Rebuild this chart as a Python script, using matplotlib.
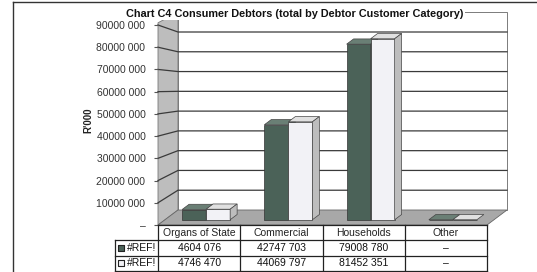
import matplotlib
matplotlib.use('Agg')
import matplotlib.pyplot as plt
from matplotlib.patches import Polygon
from matplotlib.lines import Line2D

categories = ['Organs of State', 'Commercial', 'Households', 'Other']
series_a = [4604076, 42747703, 79008780, 0]
series_b = [4746470, 44069797, 81452351, 0]
series_names = ['#REF!', '#REF!']
yticks = [0, 10000000, 20000000, 30000000, 40000000, 50000000,
          60000000, 70000000, 80000000, 90000000]
title = 'Chart C4 Consumer Debtors (total by Debtor Customer Category)'
ylabel = "R'000"


def fmt(v):
    if v == 0:
        return '\u2013'
    return '%d %03d' % (v // 1000, v % 1000)


W, H = 537, 272
fig = plt.figure(figsize=(W / 100, H / 100), dpi=100)
plt.rcParams['font.family'] = ['Liberation Sans', 'DejaVu Sans']

# main axes: category units across, values up (front plane)
ax = fig.add_axes([158 / W, 47 / H, 329 / W, 200 / H])
ax.set_xlim(-0.5, 3.5)
ax.set_ylim(0, 90000000)
for s in ax.spines.values():
    s.set_visible(False)
ax.set_xticks([])
ax.set_yticks(yticks)
ax.set_yticklabels([fmt(v) for v in yticks], fontsize=7.5, color='#333333')
ax.tick_params(axis='y', length=3, width=0.8, color='#555555', pad=6)
ax.set_facecolor('none')

DX = 0.243          # depth offset in category units
DY = 6750000        # depth offset in value units
SHRINK = 0.11       # back wall is a bit compressed
TOP_BACK = 100000000
TOP_FRONT = 91000000


def wall_pt(x, v, d):
    return (x + d * DX, d * DY + v * (1 - d * SHRINK))


def bar_pt(x, v, d):
    return (x + d * DX, d * DY + v)


def poly(pts, fc, ec='#444444', lw=0.5, z=1):
    ax.add_patch(Polygon(pts, closed=True, facecolor=fc, edgecolor=ec,
                         linewidth=lw, zorder=z, clip_on=False))


x0, x1 = -0.5, 3.5
# back wall
poly([wall_pt(x0, 0, 1), wall_pt(x1, 0, 1), wall_pt(x1, TOP_BACK, 1),
      wall_pt(x0, TOP_BACK, 1)], 'white', ec='#666666', lw=0.6, z=0)
# side wall
poly([wall_pt(x0, 0, 0), wall_pt(x0, 0, 1), wall_pt(x0, TOP_BACK, 1),
      (x0, TOP_FRONT)], '#bdbdbd', ec='#777777', lw=0.6, z=0)
# floor
poly([wall_pt(x0, 0, 0), wall_pt(x1, 0, 0), wall_pt(x1, 0, 1),
      wall_pt(x0, 0, 1)], '#a8a8a8', ec='#666666', lw=0.6, z=0)

# gridlines on back wall and side wall
for v in yticks[1:]:
    a = wall_pt(x0, v, 0)
    b = wall_pt(x0, v, 1)
    c = wall_pt(x1, v, 1)
    ax.plot([a[0], b[0], c[0]], [a[1], b[1], c[1]], color='#3a3a3a',
            lw=0.9, zorder=0.5, clip_on=False)

# bars
w = 0.292
d0, d1 = 0.35, 0.7
styles = [('#4b6258', '#6a7f75', '#3c5048'), ('#f2f2f6', '#e0e0e0', '#bdbdbd')]
for i in range(len(categories)):
    for s, vals in enumerate([series_a, series_b]):
        v = vals[i]
        front, top, side = styles[s]
        left = i - w + s * w
        z = 2 + i * 0.1 + s * 0.01
        ax.bar(left + d0 * DX, v, width=w, bottom=d0 * DY, align='edge',
               color=front, edgecolor='#333333', linewidth=0.5, zorder=z,
               clip_on=False)
        poly([bar_pt(left, v, d0), bar_pt(left + w, v, d0),
              bar_pt(left + w, v, d1), bar_pt(left, v, d1)], top, z=z)
        if v > 0:
            poly([bar_pt(left + w, 0, d0), bar_pt(left + w, 0, d1),
                  bar_pt(left + w, v, d1), bar_pt(left + w, v, d0)], side, z=z)

# data table below the chart
tax = fig.add_axes([115 / W, 1 / H, 372 / W, 46 / H])
tx0 = -0.5 - 43 / 82.25
tax.set_xlim(tx0, 3.5)
tax.set_ylim(3, 0)
tax.axis('off')
lk = dict(color='#222222', lw=0.9, clip_on=False)
tax.plot([x0, x1], [0, 0], **lk)
for r in [1, 2, 3]:
    tax.plot([tx0, x1], [r, r], **lk)
for i in range(len(categories) + 1):
    tax.plot([x0 + i, x0 + i], [0, 3], **lk)
tax.plot([tx0, tx0], [1, 3], **lk)
for i, c in enumerate(categories):
    tax.text(i, 0.55, c, ha='center', va='center', fontsize=7.5, color='#222222')
    tax.text(i, 1.5, fmt(series_a[i]), ha='center', va='center', fontsize=7.5,
             color='#111111')
    tax.text(i, 2.5, fmt(series_b[i]), ha='center', va='center', fontsize=7.5,
             color='#111111')
for r, (name, (front, _, _)) in enumerate(zip(series_names, styles)):
    kx = tx0 + 0.07
    tax.scatter([kx], [r + 1.5], marker='s', s=16, facecolor=front,
                edgecolor='#222222', linewidth=0.8, clip_on=False)
    tax.text(kx + 0.08, r + 1.5, name, ha='left', va='center', fontsize=7.5,
             color='#111111')

fig.text(295 / W, 1 - 14 / H, title, ha='center', va='center', fontsize=7.8,
         fontweight='bold', color='#111111',
         bbox=dict(facecolor='white', edgecolor='none', pad=1))
fig.text(88 / W, 1 - 120 / H, ylabel, ha='center', va='center', rotation=90,
         fontsize=7, fontweight='bold', color='#222222')

# outer frame
fig.add_artist(Line2D([13 / W, 13 / W], [0, 1 - 2 / H], color='#333333', lw=1))
fig.add_artist(Line2D([13 / W, 1], [1 - 2 / H, 1 - 2 / H], color='#333333', lw=1))

fig.savefig('out.png', dpi=100)
